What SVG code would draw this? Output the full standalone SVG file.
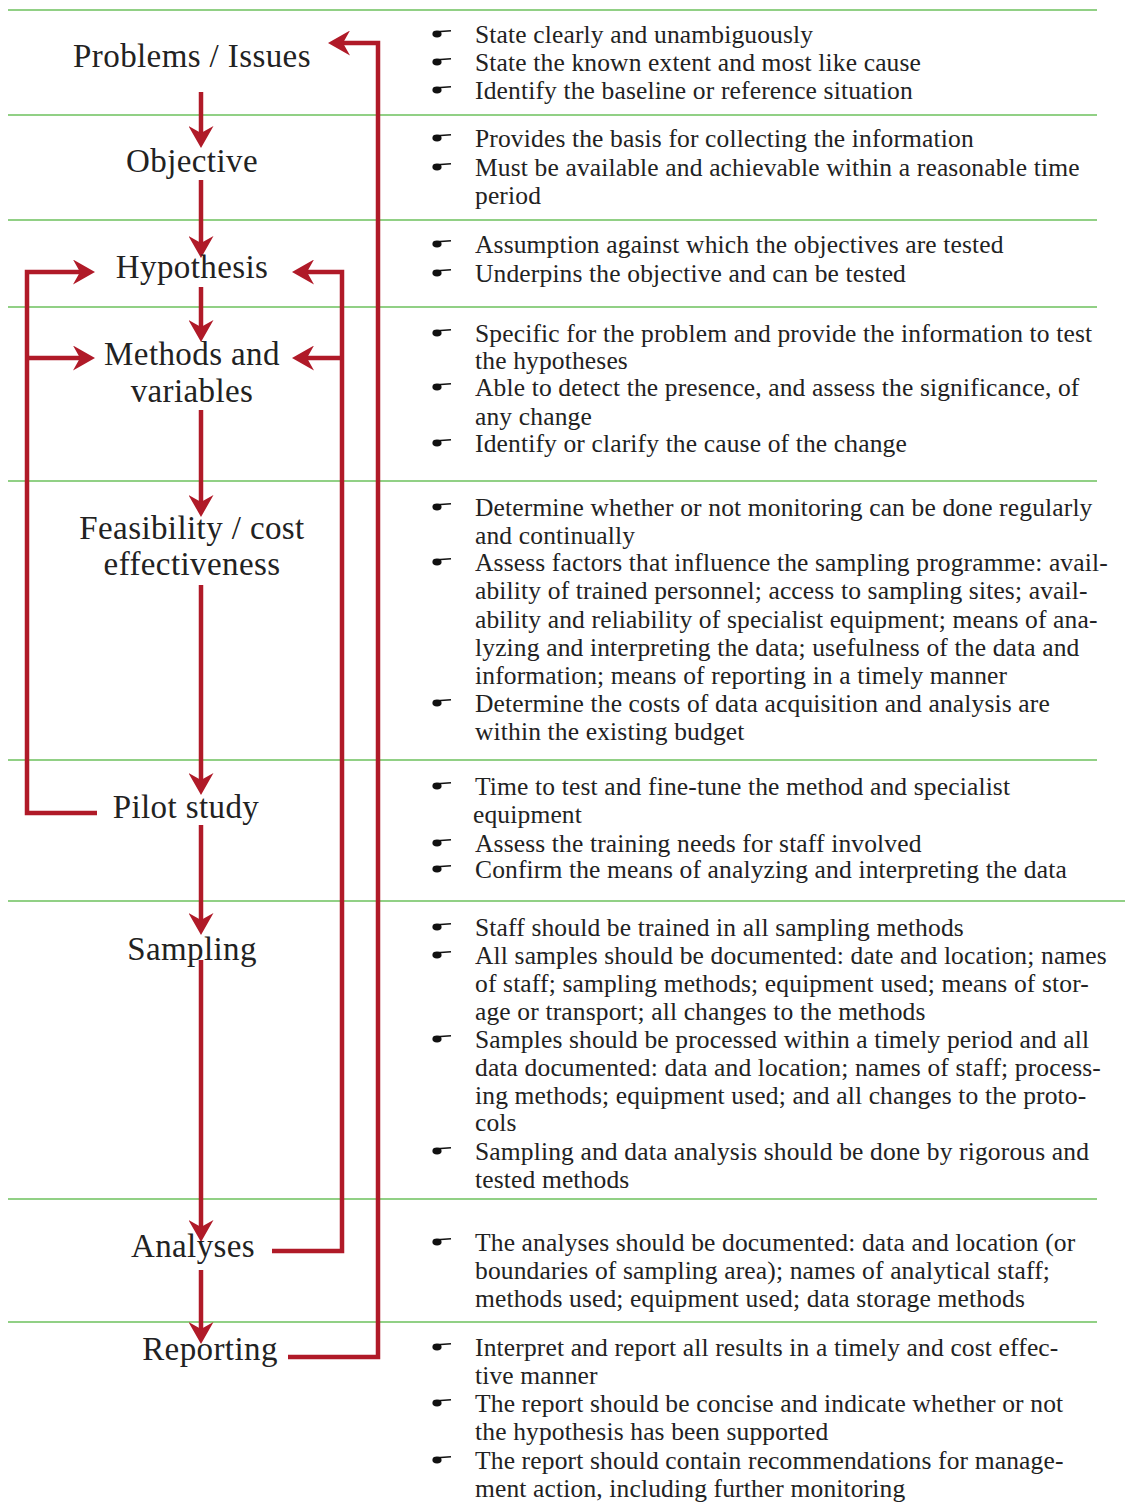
<svg xmlns="http://www.w3.org/2000/svg" width="1125" height="1503" viewBox="0 0 1125 1503">
<style>
.sep{stroke:#6cc05c;stroke-width:1.6;fill:none}
.lbl{font-family:"Liberation Serif","DejaVu Serif",serif;font-size:33px;letter-spacing:0.4px;fill:#222;text-anchor:middle}
.txt{font-family:"Liberation Serif","DejaVu Serif",serif;font-size:25.5px;letter-spacing:0.15px;fill:#222}
.con{stroke:#b01a28;stroke-width:4.5;fill:none;stroke-linejoin:miter}
.arr{stroke:#b01a28;stroke-width:4.5;fill:none;marker-end:url(#ah)}
</style>
<defs>
<marker id="ah" viewBox="0 0 22 25" refX="12" refY="12.5" markerWidth="22" markerHeight="25" markerUnits="userSpaceOnUse" orient="auto">
<path d="M0,0 L22,12.5 L0,25 L7,12.5 Z" fill="#b01a28"/>
</marker>
<g id="bul"><ellipse cx="437" cy="0" rx="4.6" ry="3.4" fill="#111"/><path d="M437,-2.2 L451,-3.2" stroke="#111" stroke-width="1.6"/></g>
</defs>
<rect width="1125" height="1503" fill="#fff"/>
<g id="separators">
<line class="sep" x1="8" y1="10" x2="1097" y2="10"/>
<line class="sep" x1="8" y1="115" x2="1097" y2="115"/>
<line class="sep" x1="8" y1="220" x2="1097" y2="220"/>
<line class="sep" x1="8" y1="307" x2="1097" y2="307"/>
<line class="sep" x1="8" y1="481" x2="1097" y2="481"/>
<line class="sep" x1="8" y1="760" x2="1097" y2="760"/>
<line class="sep" x1="8" y1="901" x2="1125" y2="901"/>
<line class="sep" x1="8" y1="1199" x2="1097" y2="1199"/>
<line class="sep" x1="8" y1="1322" x2="1097" y2="1322"/>
</g>
<g id="connectors">
<path class="arr" d="M201,92 V138"/>
<path class="arr" d="M201,180 V248"/>
<path class="arr" d="M201,287 V332"/>
<path class="arr" d="M201,410 V507"/>
<path class="arr" d="M201,585 V785"/>
<path class="arr" d="M201,825 V925"/>
<path class="arr" d="M201,960 V1232"/>
<path class="arr" d="M201,1270 V1334"/>
<path class="arr" d="M288,1357 H378 V43 H338"/>
<path class="arr" d="M272,1251 H342 V272 H302"/>
<path class="arr" d="M342,358 H302"/>
<path class="arr" d="M97,813 H27 V272 H85"/>
<path class="arr" d="M27,358 H85"/>
</g>
<g id="n-problems"><text class="lbl" x="192" y="67">Problems / Issues</text>
<g class="txt"><use href="#bul" y="34"/><text x="475" y="43">State clearly and unambiguously</text>
<use href="#bul" y="62"/><text x="475" y="71">State the known extent and most like cause</text>
<use href="#bul" y="90"/><text x="475" y="99">Identify the baseline or reference situation</text></g></g>
<g id="n-objective"><text class="lbl" x="192" y="172">Objective</text>
<g class="txt"><use href="#bul" y="138"/><text x="475" y="147">Provides the basis for collecting the information</text>
<use href="#bul" y="167"/><text x="475" y="176">Must be available and achievable within a reasonable time</text>
<text x="475" y="204">period</text></g></g>
<g id="n-hypothesis"><text class="lbl" x="192" y="278">Hypothesis</text>
<g class="txt"><use href="#bul" y="244"/><text x="475" y="253">Assumption against which the objectives are tested</text>
<use href="#bul" y="273"/><text x="475" y="282">Underpins the objective and can be tested</text></g></g>
<g id="n-methods"><text class="lbl" x="192" y="365">Methods and</text><text class="lbl" x="192" y="402">variables</text>
<g class="txt"><use href="#bul" y="333"/><text x="475" y="342">Specific for the problem and provide the information to test</text>
<text x="475" y="369">the hypotheses</text>
<use href="#bul" y="387"/><text x="475" y="396">Able to detect the presence, and assess the significance, of</text>
<text x="475" y="425">any change</text>
<use href="#bul" y="443"/><text x="475" y="452">Identify or clarify the cause of the change</text></g></g>
<g id="n-feasibility"><text class="lbl" x="192" y="539">Feasibility / cost</text><text class="lbl" x="192" y="575">effectiveness</text>
<g class="txt"><use href="#bul" y="507"/><text x="475" y="516">Determine whether or not monitoring can be done regularly</text>
<text x="475" y="544">and continually</text>
<use href="#bul" y="562"/><text x="475" y="571">Assess factors that influence the sampling programme: avail-</text>
<text x="475" y="599">ability of trained personnel; access to sampling sites; avail-</text>
<text x="475" y="628">ability and reliability of specialist equipment; means of ana-</text>
<text x="475" y="656">lyzing and interpreting the data; usefulness of the data and</text>
<text x="475" y="684">information; means of reporting in a timely manner</text>
<use href="#bul" y="703"/><text x="475" y="712">Determine the costs of data acquisition and analysis are</text>
<text x="475" y="740">within the existing budget</text></g></g>
<g id="n-pilot"><text class="lbl" x="186" y="818">Pilot study</text>
<g class="txt"><use href="#bul" y="786"/><text x="475" y="795">Time to test and fine-tune the method and specialist</text>
<text x="473" y="823">equipment</text>
<use href="#bul" y="843"/><text x="475" y="852">Assess the training needs for staff involved</text>
<use href="#bul" y="869"/><text x="475" y="878">Confirm the means of analyzing and interpreting the data</text></g></g>
<g id="n-sampling"><text class="lbl" x="192" y="960">Sampling</text>
<g class="txt"><use href="#bul" y="927"/><text x="475" y="936">Staff should be trained in all sampling methods</text>
<use href="#bul" y="955"/><text x="475" y="964">All samples should be documented: date and location; names</text>
<text x="475" y="992">of staff; sampling methods; equipment used; means of stor-</text>
<text x="475" y="1020">age or transport; all changes to the methods</text>
<use href="#bul" y="1039"/><text x="475" y="1048">Samples should be processed within a timely period and all</text>
<text x="475" y="1076">data documented: data and location; names of staff; process-</text>
<text x="475" y="1104">ing methods; equipment used; and all changes to the proto-</text>
<text x="475" y="1131">cols</text>
<use href="#bul" y="1151"/><text x="475" y="1160">Sampling and data analysis should be done by rigorous and</text>
<text x="475" y="1188">tested methods</text></g></g>
<g id="n-analyses"><text class="lbl" x="193" y="1257">Analyses</text>
<g class="txt"><use href="#bul" y="1242"/><text x="475" y="1251">The analyses should be documented: data and location (or</text>
<text x="475" y="1279">boundaries of sampling area); names of analytical staff;</text>
<text x="475" y="1307">methods used; equipment used; data storage methods</text></g></g>
<g id="n-reporting"><text class="lbl" x="210" y="1360">Reporting</text>
<g class="txt"><use href="#bul" y="1347"/><text x="475" y="1356">Interpret and report all results in a timely and cost effec-</text>
<text x="475" y="1384">tive manner</text>
<use href="#bul" y="1403"/><text x="475" y="1412">The report should be concise and indicate whether or not</text>
<text x="475" y="1440">the hypothesis has been supported</text>
<use href="#bul" y="1460"/><text x="475" y="1469">The report should contain recommendations for manage-</text>
<text x="475" y="1497">ment action, including further monitoring</text></g></g>
</svg>
